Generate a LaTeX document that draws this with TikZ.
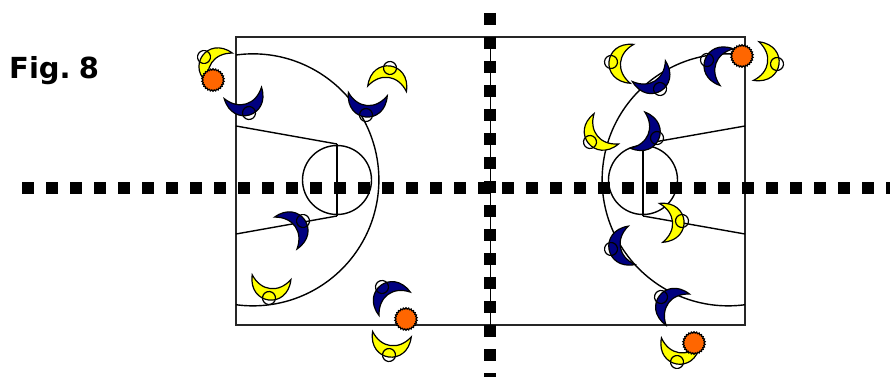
\documentclass[tikz,border=0pt]{standalone}
\usepackage{fontspec}
\setsansfont{DejaVu Sans}
\usetikzlibrary{shapes.geometric}
\definecolor{teamblue}{HTML}{000080}
\definecolor{teamyellow}{HTML}{FFFF00}
\definecolor{ballorange}{HTML}{FF6600}
\tikzset{
  courtline/.style={line width=1.4pt, black},
  courtedge/.style={line width=2pt, black!85!white},
  divider/.style={line width=12pt, black, dash pattern=on 12pt off 12pt},
  crescent/.style={line width=1.2pt, black, line join=miter},
  ball/.style={star, star points=26, star point ratio=1.13, minimum size=22.5pt,
    inner sep=0pt, draw=black, line width=1.2pt, fill=ballorange}
}
% #1 team colour, #2 position of the head, #3 rotation
\newcommand{\player}[3]{
  \begin{scope}[shift={#2}, rotate=#3]
    \draw[crescent, fill=#1] (-19.5,-21) .. controls (-20,9.7) and (20,9.7) .. (19.5,-21)
      .. controls (9,-5.7) and (-9,-5.7) .. (-19.5,-21) -- cycle;
    \draw[crescent] (0,0) circle [radius=6.5];
  \end{scope}
}
\begin{document}
\begin{tikzpicture}[x=1pt, y=-1pt]
  \useasboundingbox (0,0) rectangle (890,377);
  \def\T{37}
  \def\B{325}
  \def\M{180}
  % court
  \draw[courtedge] (236,\T) rectangle (745,\B);
  \draw[courtline] (490.5,\T) -- (490.5,\B);
  % left half
  \draw[courtline] (236,55) arc [radius=126, start angle=-97.7, end angle=97.7];
  \draw[courtline] (337,\M) circle [radius=34.5];
  \draw[courtline] (337,144) -- (337,216);
  \draw[courtline] (236,126) -- (337,144);
  \draw[courtline] (236,234) -- (337,216);
  % right half
  \draw[courtline] (745,55) arc [radius=126, start angle=-82.3, end angle=-277.7];
  \draw[courtline] (643,\M) circle [radius=34.5];
  \draw[courtline] (643,144) -- (643,216);
  \draw[courtline] (745,126) -- (643,144);
  \draw[courtline] (745,234) -- (643,216);
  % halves
  \draw[divider] (22,188) -- (890,188);
  \draw[divider] (490,13) -- (490,377);
  % left players
  \player{teamyellow}{(204,57)}{235}
  \player{teamblue}{(249,113)}{17}
  \player{teamblue}{(366,115)}{-5}
  \player{teamyellow}{(390,68)}{172}
  \player{teamblue}{(303,221)}{125}
  \player{teamyellow}{(269,298)}{-7}
  \player{teamblue}{(382,287)}{217}
  \player{teamyellow}{(389,355)}{-8}
  % right players
  \player{teamyellow}{(611,62)}{265}
  \player{teamblue}{(660,89)}{32}
  \player{teamblue}{(707,60)}{250}
  \player{teamyellow}{(777,64)}{82}
  \player{teamyellow}{(590,142)}{-51}
  \player{teamblue}{(657,138)}{68}
  \player{teamyellow}{(682,221)}{95}
  \player{teamblue}{(611,249)}{-80}
  \player{teamblue}{(661,297)}{233}
  \player{teamyellow}{(677,362)}{-10}
  % balls
  \node[ball] (ballA) at (213,80) {};
  \node[ball] (ballB) at (406,319) {};
  \node[ball] (ballC) at (742,56) {};
  \node[ball] (ballD) at (694,343) {};
  \node[anchor=base west, inner sep=0pt, font=\sffamily\bfseries\fontsize{29}{29}\selectfont] (title) at (9,79) {Fig.\kern-2pt\ 8};
\end{tikzpicture}
\end{document}
